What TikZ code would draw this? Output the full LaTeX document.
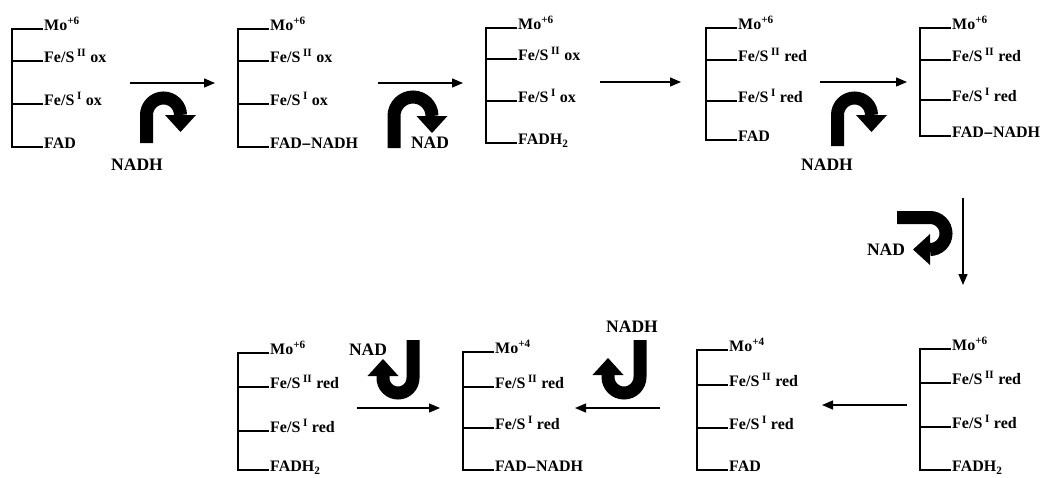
\documentclass[tikz,border=0pt]{standalone}
\usepackage{fontspec}
\setmainfont{Liberation Serif}
\usetikzlibrary{arrows.meta}
\tikzset{
  lab/.style={anchor=base west, inner sep=0pt, font=\fontsize{16}{19}\selectfont\bfseries},
  cof/.style={inner sep=0pt, font=\fontsize{17.5}{20}\selectfont\bfseries},
  brk/.style={line width=1.5pt},
  rxn/.style={line width=1.3pt, -{Triangle[length=11pt,width=9pt]}},
  uarrow/.style={line width=13pt, -{Triangle[length=17pt,width=31pt,line width=0pt]}},
}
\newcommand\MoOx[1]{Mo\textsuperscript{#1}}
\newcommand\FeS[2]{Fe/S\,\textsuperscript{#1} #2}
\newcommand\NADlink{FAD-\kern-1.5pt-NADH}
\newcommand\mkstate[6]{%
  \draw[brk] ({#2+31},\ya) -- (#2,\ya) -- (#2,\yd) -- ({#2+31},\yd);
  \draw[brk] (#2,\yb) -- ++(31,0);
  \draw[brk] (#2,\yc) -- ++(31,0);
  \node[lab] (#1mo)  at ({#2+32},{\ya+1.5}) {#3};
  \node[lab] (#1fb)  at ({#2+32},{\yb+1.5}) {#4};
  \node[lab] (#1fa)  at ({#2+32},{\yc+1.5}) {#5};
  \node[lab] (#1fad) at ({#2+32},{\yd+1.5}) {#6};
}
\begin{document}
\begin{tikzpicture}[x=1pt,y=-1pt]
\useasboundingbox (0,0) rectangle (1047,477);
% ---- top row ----
\def\ya{29}\def\yb{61}\def\yc{104}\def\yd{147}
\mkstate{s1}{12}{\MoOx{+6}}{\FeS{II}{ox}}{\FeS{I}{ox}}{FAD}
\mkstate{s2}{238}{\MoOx{+6}}{\FeS{II}{ox}}{\FeS{I}{ox}}{\NADlink}
\def\ya{28}\def\yb{59}\def\yc{101}\def\yd{143}
\mkstate{s3}{486}{\MoOx{+6}}{\FeS{II}{ox}}{\FeS{I}{ox}}{FADH\textsubscript{2}}
\def\ya{28}\def\yb{60}\def\yc{101}\def\yd{140}
\mkstate{s4}{706}{\MoOx{+6}}{\FeS{II}{red}}{\FeS{I}{red}}{FAD}
\def\ya{28}\def\yb{60}\def\yc{100}\def\yd{136}
\mkstate{s5}{920}{\MoOx{+6}}{\FeS{II}{red}}{\FeS{I}{red}}{\NADlink}
% ---- bottom row ----
\def\ya{349}\def\yb{383}\def\yc{427}\def\yd{470}
\mkstate{s6}{920}{\MoOx{+6}}{\FeS{II}{red}}{\FeS{I}{red}}{FADH\textsubscript{2}}
\def\ya{350}\def\yb{385}\def\yc{428}\def\yd{470}
\mkstate{s7}{697}{\MoOx{+4}}{\FeS{II}{red}}{\FeS{I}{red}}{FAD}
\def\ya{352}\def\yb{387}\def\yc{428}\def\yd{470}
\mkstate{s8}{463}{\MoOx{+4}}{\FeS{II}{red}}{\FeS{I}{red}}{\NADlink}
\def\ya{353}\def\yb{387}\def\yc{431}\def\yd{470}
\mkstate{s9}{238}{\MoOx{+6}}{\FeS{II}{red}}{\FeS{I}{red}}{FADH\textsubscript{2}}
% ---- reaction arrows ----
\coordinate (r1a) at (130,83);  \coordinate (r1b) at (215,83);
\coordinate (r2a) at (378,83);  \coordinate (r2b) at (463,83);
\coordinate (r3a) at (600,82);  \coordinate (r3b) at (681,82);
\coordinate (r4a) at (820,82);  \coordinate (r4b) at (907,82);
\coordinate (r5a) at (963,198); \coordinate (r5b) at (963,285);
\coordinate (r6a) at (907,405); \coordinate (r6b) at (822,405);
\coordinate (r7a) at (660,408); \coordinate (r7b) at (575,408);
\coordinate (r8a) at (357,408); \coordinate (r8b) at (440,408);
\foreach \i in {1,...,8} \draw[rxn] (r\i a) -- (r\i b);
% ---- cofactor U-turn arrows ----
\coordinate (u1) at (146.5,143);
\draw[uarrow] (u1) -- (146.5,115) arc[start angle=180,end angle=360,radius=17] -- ++(0,17);
\node[cof] (nadh1) at (137,165) {NADH};
\coordinate (u2) at (394,148);
\draw[uarrow] (u2) -- (394,116) arc[start angle=180,end angle=360,radius=19] -- ++(0,17);
\node[cof] (nad2) at (430,143) {NAD};
\coordinate (u4) at (837.5,146);
\draw[uarrow] (u4) -- (837.5,115) arc[start angle=180,end angle=360,radius=17] -- ++(0,17);
\node[cof] (nadh4) at (827,165) {NADH};
\coordinate (u5) at (897,217.5);
\draw[uarrow] (u5) -- (930,217.5) arc[start angle=-90,end angle=90,radius=16] -- ++(-17,0);
\node[cof] (nad5) at (886,250) {NAD};
\coordinate (u8) at (640,340);
\draw[uarrow] (u8) -- (640,377) arc[start angle=0,end angle=180,radius=16] -- ++(0,-19);
\node[cof] (nadh8) at (632,327) {NADH};
\coordinate (u9) at (413,340);
\draw[uarrow] (u9) -- (413,378) arc[start angle=0,end angle=180,radius=15] -- ++(0,-19);
\node[cof] (nad9) at (368,350) {NAD};
\end{tikzpicture}
\end{document}
